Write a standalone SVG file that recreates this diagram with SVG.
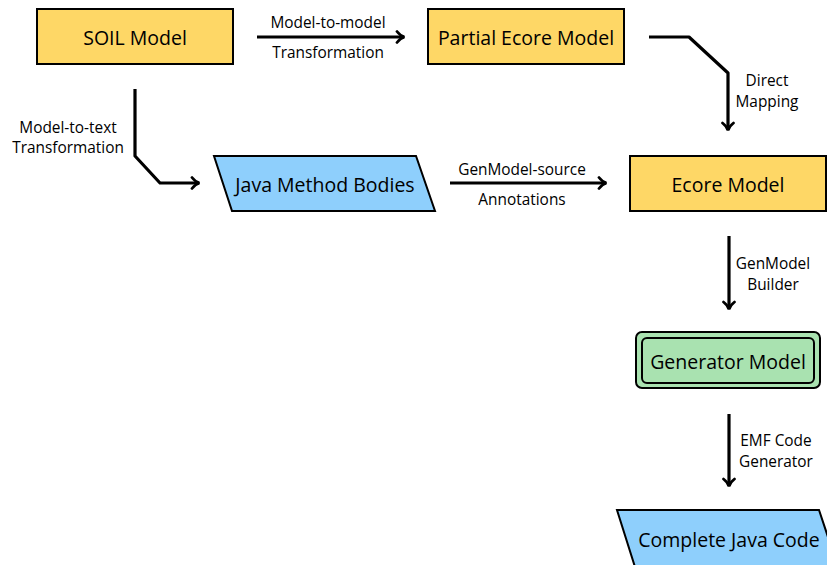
<svg xmlns="http://www.w3.org/2000/svg" width="827" height="565" viewBox="0 0 827 565">
<style>
.node{stroke:#000;stroke-width:2}
.yellow{fill:#FED766}
.blue{fill:#8ECFFC}
.green{fill:#A9E2B0}
.nt{font-family:"Open Sans","DejaVu Sans",sans-serif;font-size:19.5px;fill:#000;text-anchor:middle;dominant-baseline:central}
.lt{font-family:"Open Sans","DejaVu Sans",sans-serif;font-size:15.4px;fill:#000;text-anchor:middle;dominant-baseline:central}
.edge{fill:none;stroke:#000;stroke-width:3.2;stroke-linejoin:round}
</style>
<defs>
<marker id="arr" viewBox="0 0 12 14" refX="9.5" refY="7" markerWidth="12" markerHeight="14" markerUnits="userSpaceOnUse" orient="auto">
<path d="M2.5,1.5 Q6,6 10,7 Q6,8 2.5,12.5" fill="none" stroke="#000" stroke-width="2.8" stroke-linecap="round"/>
</marker>
</defs>
<rect width="827" height="565" fill="#fff"/>
<g id="soil"><rect class="node yellow" x="37" y="9" width="196" height="55"/><text class="nt" x="135" y="37">SOIL Model</text></g>
<g id="partial"><rect class="node yellow" x="428" y="9" width="196" height="55"/><text class="nt" x="526" y="37">Partial Ecore Model</text></g>
<g id="ecore"><rect class="node yellow" x="630" y="156" width="196" height="55"/><text class="nt" x="728" y="184">Ecore Model</text></g>
<g id="java"><polygon class="node blue" points="214,156 416,156 435,211 232,211"/><text class="nt" x="325" y="184">Java Method Bodies</text></g>
<g id="generator"><rect class="node green" x="636" y="332" width="184" height="56" rx="6"/><rect class="node green" x="642" y="338" width="172" height="45" rx="5"/><text class="nt" x="728" y="361">Generator Model</text></g>
<g id="complete"><polygon class="node blue" points="617,510 819,510 838,567 635,567"/><text class="nt" x="729" y="539">Complete Java Code</text></g>
<g id="connectors">
<path class="edge" d="M257,37 H404" marker-end="url(#arr)"/>
<path class="edge" d="M649,37 H689 L728,73 V130" marker-end="url(#arr)"/>
<path class="edge" d="M135,89 V156 L160,183 H199" marker-end="url(#arr)"/>
<path class="edge" d="M450,183 H606" marker-end="url(#arr)"/>
<path class="edge" d="M729,236 V309" marker-end="url(#arr)"/>
<path class="edge" d="M729,414 V486" marker-end="url(#arr)"/>
<text class="lt" x="328" y="22">Model-to-model</text>
<text class="lt" x="328" y="52">Transformation</text>
<text class="lt" x="767" y="80">Direct</text>
<text class="lt" x="767" y="101">Mapping</text>
<text class="lt" x="68" y="127">Model-to-text</text>
<text class="lt" x="68" y="147">Transformation</text>
<text class="lt" x="522" y="169">GenModel-source</text>
<text class="lt" x="522" y="199">Annotations</text>
<text class="lt" x="773" y="263">GenModel</text>
<text class="lt" x="773" y="284">Builder</text>
<text class="lt" x="776" y="440">EMF Code</text>
<text class="lt" x="776" y="461">Generator</text>
</g>
</svg>
